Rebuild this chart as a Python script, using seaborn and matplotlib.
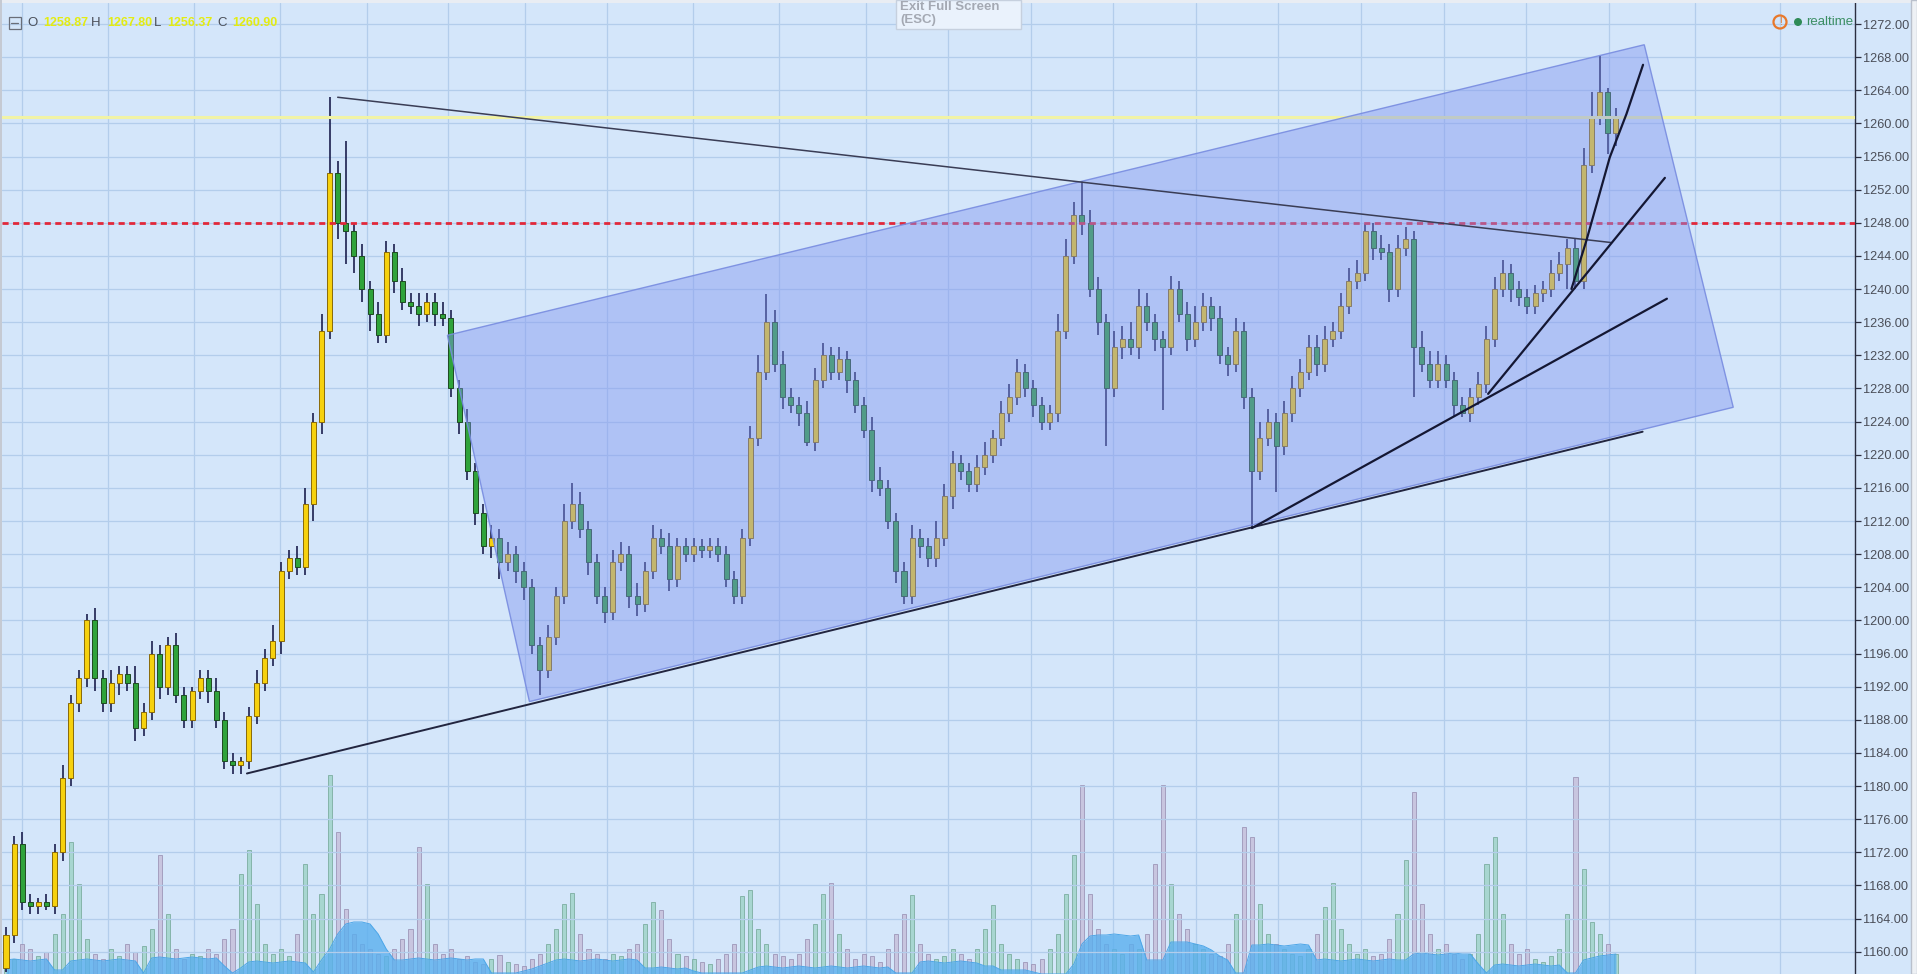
import numpy as np
import pandas as pd
import matplotlib
matplotlib.use("Agg")
import matplotlib.pyplot as plt
import seaborn as sns
from matplotlib.patches import Polygon, Rectangle, Ellipse

# ---------------- data ----------------
closes = [
    1162, 1173, 1166, 1165.5, 1166, 1165.5, 1172, 1181, 1190, 1193,
    1200, 1193, 1190, 1192.5, 1193.5, 1192.5, 1187, 1189, 1196, 1192,
    1197, 1191, 1188, 1191.5, 1193, 1191.5, 1188, 1183, 1182.5, 1183,
    1188.5, 1192.5, 1195.5, 1197.5, 1206, 1207.5, 1206.5, 1214, 1224, 1235,
    1254, 1248, 1247, 1244, 1240, 1237, 1234.5, 1244.5, 1241, 1238.5,
    1238, 1237, 1238.5, 1237, 1236.5, 1228, 1224, 1218, 1213, 1209,
    1210, 1207, 1208, 1206, 1204, 1197, 1194, 1198, 1203, 1212,
    1214, 1211, 1207, 1203, 1201, 1207, 1208, 1203, 1202, 1206,
    1210, 1209, 1205, 1209, 1208, 1209, 1208.5, 1209, 1208, 1205,
    1203, 1210, 1222, 1230, 1236, 1231, 1227, 1226, 1225, 1221.5,
    1229, 1232, 1230, 1231.5, 1229, 1226, 1223, 1217, 1216, 1212,
    1206, 1203, 1210, 1209, 1207.5, 1210, 1215, 1219, 1218, 1216.5,
    1218.5, 1220, 1222, 1225, 1227, 1230, 1228, 1226, 1224, 1225,
    1235, 1244, 1249, 1248, 1240, 1236, 1228, 1233, 1234, 1233,
    1238, 1236, 1234, 1233, 1240, 1237, 1234, 1236, 1238, 1236.5,
    1232, 1231, 1235, 1227, 1218, 1222, 1224, 1221, 1225, 1228,
    1230, 1233, 1231, 1234, 1235, 1238, 1241, 1242, 1247, 1245,
    1244.5, 1240, 1245, 1246, 1233, 1231, 1229, 1231, 1229, 1226,
    1225, 1227, 1228.5, 1234, 1240, 1242, 1240, 1239, 1238, 1239.5,
    1240, 1242, 1243, 1245, 1241, 1255, 1260.8, 1263.8, 1258.8, 1260.9,
]
first_open = 1158

wick_up = [
    1, 1, 1.5, 1, 0.5, 1, 1, 1.5, 1, 1,
    0.8, 1.5, 1, 1.5, 1, 1, 2, 1, 1.5, 1,
    1, 1.5, 1, 0.5, 1, 1, 1.5, 1, 1, 0.5,
    1, 1.5, 1, 2, 1, 1, 1.5, 2, 1, 2,
    9.2, 1.5, 9.9, 1, 1.5, 1, 1.5, 1.3, 1, 1.5,
    1, 1.5, 1, 1, 1.5, 1, 1, 1.5, 1, 1,
    1.5, 1, 1.5, 1, 1, 1, 1, 1.5, 1, 2,
    2.6, 1.5, 1, 1, 1, 1.5, 1.5, 1, 1.5, 1,
    1.5, 1, 1.5, 1, 1, 1, 0.8, 1, 1, 1,
    1, 1, 1.5, 2, 3.4, 1.5, 1.5, 1, 1, 1.5,
    1.5, 1.5, 1, 1.5, 1, 1, 1, 1.5, 1.5, 1,
    1, 1, 1.5, 1, 1, 2, 1.5, 1.5, 1, 1,
    1.5, 1.5, 1, 1.5, 1.5, 1.5, 1, 1, 1, 1,
    2, 2, 1.5, 4, 1.5, 1.5, 1, 2, 1.5, 2,
    2, 1.5, 1, 1, 1.6, 1, 1.5, 2, 1.5, 1,
    1.5, 1, 1.5, 1, 1, 2, 1.5, 1, 1.5, 1.5,
    1.5, 1.5, 1.5, 1.5, 1, 1.5, 1.5, 1.5, 0.8, 1,
    1.5, 1, 1.5, 1.5, 1, 2, 1.5, 1.5, 1, 1,
    1, 1, 1.5, 1.5, 1.5, 1.5, 1, 1, 1, 1,
    1, 1.5, 1.5, 1, 1, 2, 3, 4.4, 0.5, 1,
]

wick_dn = [
    0.5, 1, 1, 1, 1, 0.5, 1, 1, 1, 1,
    1, 1.5, 1, 1, 1.5, 1, 1.5, 1, 1, 1.5,
    1, 1, 1, 1, 1, 1.5, 1, 1, 1, 1,
    1, 1, 1, 1, 1.5, 1, 1, 1, 2, 1.5,
    1, 2, 4, 2, 1.5, 2, 1, 1, 1.5, 1,
    1, 1.5, 1, 1.5, 1, 1, 1.5, 1, 1.5, 1,
    1.5, 2, 1, 1.5, 1.5, 1, 3, 1, 1, 1,
    1, 1, 1.5, 1, 1.3, 1, 1, 1.5, 1.5, 1,
    1, 1, 1.5, 1, 1, 1, 1, 1, 1, 1,
    1, 1, 1, 1, 1, 1, 1.5, 1, 1.5, 0.5,
    1, 1, 1, 1, 1.5, 1, 1, 1.5, 1, 1,
    1.5, 1, 1, 1.5, 1, 1, 1, 1.5, 1, 1,
    1, 1, 1, 1, 1, 1, 1, 1.5, 1, 1,
    1, 1, 1, 1.5, 1, 1.5, 7, 1, 1.5, 1,
    1.5, 1, 1.5, 7.6, 1, 1, 1.5, 1, 1, 1.5,
    1, 1.5, 1, 1.5, 6.9, 1, 1, 5.5, 1, 1,
    1, 1, 1.5, 1, 1, 1, 1, 1, 1, 1.5,
    1, 1.5, 1, 1, 6, 1, 1, 1, 1, 1.5,
    0.5, 1, 1, 1, 1, 1, 1.5, 1, 1, 1,
    1, 1, 1, 3, 1, 1, 1, 1, 2.5, 1.5,
]

volume = [
    20, 15, 30, 25, 18, 22, 40, 60, 132, 90,
    35, 20, 15, 25, 18, 30, 22, 28, 45, 119,
    60, 25, 15, 20, 18, 25, 20, 35, 45, 100,
    124, 70, 30, 20, 25, 18, 40, 110, 60, 80,
    199, 142, 65, 40, 30, 25, 20, 18, 25, 35,
    45, 127, 90, 30, 20, 25, 15, 18, 12, 10,
    15, 19, 12, 10, 8, 15, 20, 30, 45, 70,
    81, 40, 25, 20, 15, 20, 18, 25, 30, 50,
    72, 64, 35, 20, 18, 15, 12, 10, 15, 20,
    30, 78, 84, 45, 30, 20, 18, 15, 20, 35,
    50, 80, 91, 40, 25, 15, 20, 18, 12, 25,
    40, 60, 79, 30, 20, 15, 18, 25, 20, 15,
    25, 45, 69, 30, 20, 15, 12, 10, 15, 25,
    40, 80, 119, 189, 80, 45, 30, 25, 20, 30,
    25, 40, 110, 189, 90, 60, 45, 30, 25, 20,
    18, 30, 60, 147, 137, 70, 40, 30, 25, 20,
    18, 25, 40, 67, 91, 45, 30, 20, 25, 18,
    20, 35, 60, 114, 182, 70, 40, 25, 30, 20,
    15, 20, 40, 110, 137, 60, 30, 20, 25, 15,
    12, 18, 25, 60, 197, 105, 52, 40, 30, 20,
]

volume_avg = [
    14, 15, 14, 13, 14, 15, 4, 4, 13, 14,
    15, 14, 13, 14, 15, 14, 13, 1, 16, 17,
    16, 15, 16, 17, 16, 15, 16, 8, 1, 6,
    12, 13, 12, 11, 12, 13, 12, 11, 2, 14,
    25, 40, 50, 52, 52, 50, 40, 25, 14, 14,
    15, 16, 15, 14, 15, 16, 15, 14, 15, 15,
    1, 1, 1, 1, 3, 5, 8, 11, 14, 15,
    14, 13, 14, 15, 14, 13, 14, 15, 14, 6,
    6, 7, 6, 5, 6, 3, 1, 1, 1, 1,
    1, 1, 4, 7, 8, 7, 6, 7, 8, 7,
    6, 7, 8, 7, 6, 7, 8, 7, 6, 7,
    1, 1, 1, 12, 13, 12, 11, 12, 13, 12,
    11, 8, 8, 4, 4, 4, 4, 2, 0, 0,
    0, 0, 10, 30, 38, 39, 39, 40, 39, 38,
    39, 14, 14, 14, 32, 32, 32, 30, 28, 24,
    18, 14, 1, 1, 29, 29, 30, 29, 28, 29,
    30, 29, 14, 15, 14, 13, 14, 15, 14, 13,
    14, 15, 14, 14, 20, 21, 20, 19, 20, 21,
    20, 20, 10, 1, 9, 10, 9, 8, 9, 10,
    9, 8, 9, 1, 1, 14, 16, 18, 19, 20,
]

# chart annotations (candle index, price)
channel_x = [54.56, 202.5, 213.5, 64.7]
channel_y = [1234.42, 1269.5, 1225.73, 1190.2]
resistance_x = [41.0, 198.4]
resistance_y = [1263.16, 1245.62]
support_x = [29.78, 202.3]
support_y = [1181.52, 1222.78]
fan1_x = [154.0, 205.3]
fan1_y = [1211.14, 1238.84]
fan2_x = [183.2, 205.05]
fan2_y = [1227.35, 1253.43]
fan3_x = [193.5, 195.35, 198.24, 200.3, 202.35]
fan3_y = [1240.02, 1245.86, 1255.91, 1261.14, 1267.08]
last_price = 1260.8
level_price = 1248.0

y_ticks = list(range(1160, 1273, 4))
ohlc_names = ["O", "H", "L", "C"]
ohlc_values = ["1258.87", "1267.80", "1256.37", "1260.90"]
time_grid = [1.94, 12.57, 23.2, 33.9, 44.59, 54.65, 64.1, 74.26, 84.86, 95.59,
             106.27, 116.43, 126.7, 136.79, 147.08, 157.22, 167.52, 177.7,
             187.85, 198.15, 208.78, 219.28]

# ---------------- build frame ----------------
n = len(closes)
df = pd.DataFrame({"close": closes})
df["open"] = [first_open] + closes[:-1]
df["high"] = df[["open", "close"]].max(axis=1) + np.array(wick_up)
df["low"] = df[["open", "close"]].min(axis=1) - np.array(wick_dn)
df["idx"] = np.arange(n)
df["up"] = df["close"] >= df["open"]
df["volume"] = volume
df["vavg"] = volume_avg

# ---------------- style ----------------
BG = "#D4E6FA"
GRID = "#B3CDEB"
sns.set_style("white")
plt.rcParams["font.family"] = ["Liberation Sans", "DejaVu Sans"]

W, H = 1917, 974
fig = plt.figure(figsize=(W / 100, H / 100), dpi=100, facecolor=BG)


def fx(px):
    return px / W


def fy(py):
    return 1 - py / H


ax_left, ax_right, ax_top = 2, 1855, 3
ax = fig.add_axes([fx(ax_left), 0, fx(ax_right - ax_left), (H - ax_top) / H])
axv = ax.twinx()
ax.set_zorder(axv.get_zorder() + 1)
ax.patch.set_visible(False)
axv.patch.set_facecolor(BG)

xlim = (-0.494, 228.55)
ax.set_xlim(*xlim)
ax.set_ylim(1157.31, 1274.54)
axv.set_ylim(0, H - ax_top)
axv.set_yticks([])
for s in axv.spines.values():
    s.set_visible(False)

# grid
ax.set_yticks(y_ticks)
ax.yaxis.grid(True, color=GRID, lw=0.9, zorder=0)
for g in time_grid:
    axv.axvline(g, color=GRID, lw=0.9, zorder=0)
ax.set_xticks([])

# volume
up_v = df[df["up"]]
dn_v = df[~df["up"]]
axv.bar(up_v["idx"], up_v["volume"], width=0.5, color=(0.60, 0.82, 0.76, 0.75),
        edgecolor=(0.46, 0.66, 0.60, 0.9), lw=0.6, zorder=2)
axv.bar(dn_v["idx"], dn_v["volume"], width=0.5, color=(0.77, 0.73, 0.84, 0.75),
        edgecolor=(0.60, 0.56, 0.70, 0.9), lw=0.6, zorder=2)
axv.fill_between(df["idx"], 0, df["vavg"], color="#5AAFEE", alpha=0.8, lw=0, zorder=3)
sns.lineplot(data=df, x="idx", y="vavg", ax=axv, color="#4CA6E8", lw=0.7,
             estimator=None, zorder=3)
axv.set_xlim(*xlim)
axv.set_xlabel("")
axv.set_ylabel("")

# candles
ax.vlines(df["idx"], df["low"], df["high"], color="#1C1F4E", lw=1.2, zorder=2)
up = df[df["up"]]
dn = df[~df["up"]]
ax.bar(up["idx"], np.maximum(up["close"] - up["open"], 0.2), bottom=up["open"],
       width=0.62, color="#F6D10E", edgecolor="#8A6A08", lw=0.7, zorder=3)
ax.bar(dn["idx"], np.maximum(dn["open"] - dn["close"], 0.2), bottom=dn["close"],
       width=0.62, color="#2FA33A", edgecolor="#1E4A22", lw=0.7, zorder=3)

# horizontal levels
ax.axhline(last_price, color="#F1F3A6", lw=2.2, zorder=4)
ax.axhline(level_price, color="#E2283A", lw=2.0, ls=(0, (2.2, 1.6)), zorder=4.2)

# channel polygon
poly = Polygon(np.column_stack([channel_x, channel_y]), closed=True,
               facecolor=(0.50, 0.58, 0.94, 0.43), edgecolor=(0.47, 0.55, 0.88, 0.9),
               lw=1.0, zorder=5)
ax.add_patch(poly)

# trend lines
line_kw = dict(ax=ax, estimator=None, sort=False, legend=False)
sns.lineplot(x=resistance_x, y=resistance_y, color="#3A3D55", lw=1.1, zorder=6, **line_kw)
sns.lineplot(x=support_x, y=support_y, color="#22253F", lw=1.4, zorder=6, **line_kw)
sns.lineplot(x=fan1_x, y=fan1_y, color="#141733", lw=1.6, zorder=6, **line_kw)
sns.lineplot(x=fan2_x, y=fan2_y, color="#141733", lw=1.6, zorder=6, **line_kw)
sns.lineplot(x=fan3_x, y=fan3_y, color="#141733", lw=1.6, zorder=6, **line_kw)
ax.set_xlabel("")
ax.set_ylabel("")

# axis styling
for side in ["top", "left", "bottom"]:
    ax.spines[side].set_visible(False)
ax.spines["right"].set_color("#2B2E40")
ax.spines["right"].set_linewidth(1.0)
ax.yaxis.tick_right()
ax.yaxis.set_label_position("right")
ax.set_yticklabels([f"{v:.2f}" for v in y_ticks])
ax.tick_params(axis="y", direction="out", length=4, width=0.9, color="#2B2E40",
               labelsize=9.2, labelcolor="#4A4E58", pad=2)

# ---------------- chrome ----------------
fig.patches.append(Rectangle((0, fy(3)), 1, 3 / H, transform=fig.transFigure,
                             facecolor="#E9EDF3", edgecolor="none", zorder=20))
fig.patches.append(Rectangle((0, 0), fx(2), 1, transform=fig.transFigure,
                             facecolor="#C5CAD3", edgecolor="none", zorder=20))
fig.patches.append(Rectangle((fx(1911), 0), fx(6), 1, transform=fig.transFigure,
                             facecolor="#EEF1F5", edgecolor="#B9C0CC", lw=1, zorder=20))

# exit full screen box
fig.patches.append(Rectangle((fx(896), fy(29)), fx(125), 29 / H, transform=fig.transFigure,
                             facecolor="#EAF2FC", edgecolor="#C6D0DE", lw=1, zorder=21))
fig.text(fx(900), fy(7), "Exit Full Screen", fontsize=9.5, fontweight="bold",
         color="#A4A9B3", ha="left", va="center", zorder=22)
fig.text(fx(900), fy(20), "(ESC)", fontsize=9.5, fontweight="bold",
         color="#A4A9B3", ha="left", va="center", zorder=22)

# ohlc legend
fig.patches.append(Rectangle((fx(8.5), fy(28.5)), fx(12), 12 / H, transform=fig.transFigure,
                             facecolor="none", edgecolor="#6A6E78", lw=0.9, zorder=21))
fig.lines.append(plt.Line2D([fx(11), fx(18)], [fy(22.5), fy(22.5)],
                            transform=fig.transFigure, color="#6A6E78", lw=0.9, zorder=21))
name_x = [27, 91, 154, 217]
val_x = [43, 107, 167, 232]
for nm, vl, nx, vx in zip(ohlc_names, ohlc_values, name_x, val_x):
    fig.text(fx(nx), fy(22.5), nm, fontsize=9.5, color="#4A4E58", ha="left", va="center", zorder=22)
    fig.text(fx(vx), fy(22.5), vl, fontsize=9, color="#E3EC12", ha="left", va="center",
             fontweight="bold", zorder=22)

# realtime indicator
fig.patches.append(Ellipse((fx(1780), fy(22)), width=13 / W, height=13 / H,
                           transform=fig.transFigure, facecolor="none",
                           edgecolor="#E8782A", lw=1.6, zorder=22))
fig.text(fx(1780), fy(22), "!", fontsize=7, color="#E8782A", ha="center", va="center", zorder=23)
fig.patches.append(Ellipse((fx(1798), fy(22)), width=8 / W, height=8 / H,
                           transform=fig.transFigure, facecolor="#2E8B57",
                           edgecolor="none", zorder=22))
fig.text(fx(1806), fy(22), "realtime", fontsize=9.5, color="#3B8E63", ha="left",
         va="center", zorder=22)

fig.savefig("out.png", dpi=100, facecolor=BG)
